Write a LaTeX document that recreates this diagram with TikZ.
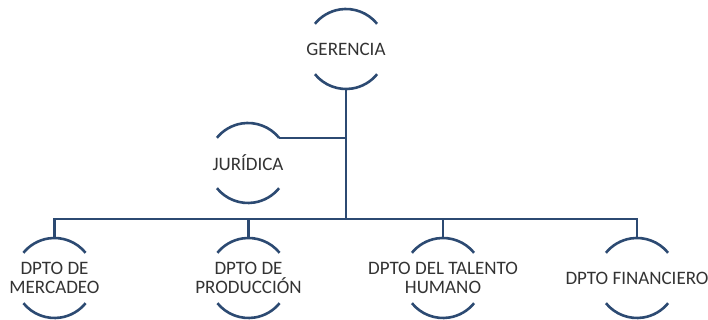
\documentclass[tikz,border=0pt]{standalone}
\usepackage{fontspec}
\setmainfont{Carlito}
\definecolor{linec}{HTML}{2C4A72}
\definecolor{txtc}{HTML}{333333}
\begin{document}
\begin{tikzpicture}[x=1pt,y=1pt,
  unit/.style={inner sep=0pt,draw=none,text=txtc,align=center,
    font=\fontsize{19}{19.5}\selectfont},
  conn/.style={draw=linec,line width=2.6pt}]
\useasboundingbox (0,0) rectangle (708,320);
\node[unit] (ger) at (346,271) {GERENCIA};
\node[unit] (jur) at (248,157) {JURÍDICA};
\node[unit] (mer) at (54.5,42) {DPTO DE\\MERCADEO};
\node[unit] (pro) at (248.5,42) {DPTO DE\\PRODUCCIÓN};
\node[unit] (tal) at (443,42) {DPTO DEL TALENTO\\HUMANO};
\node[unit] (fin) at (637,42) {DPTO FINANCIERO};
\foreach \n in {ger,jur,mer,pro,tal,fin}{
  \draw[conn] (\n.center) ++(39:40) arc[start angle=39,end angle=141,radius=40];
  \draw[conn] (\n.center) ++(219:40) arc[start angle=219,end angle=321,radius=40];
  \coordinate (\n-top) at ([yshift=40pt]\n.center);
  \coordinate (\n-bot) at ([yshift=-40pt]\n.center);
  \coordinate (\n-tr) at ([shift={(39:40)}]\n.center);
}
\coordinate (bus) at (346,101);
\draw[conn] (ger-bot) -- (bus);
\draw[conn] (jur-tr) -- (jur-tr -| ger-bot);
\draw[conn] (mer-top) |- (bus) -| (fin-top);
\draw[conn] (pro-top) -- (pro-top |- bus);
\draw[conn] (tal-top) -- (tal-top |- bus);
\end{tikzpicture}
\end{document}
